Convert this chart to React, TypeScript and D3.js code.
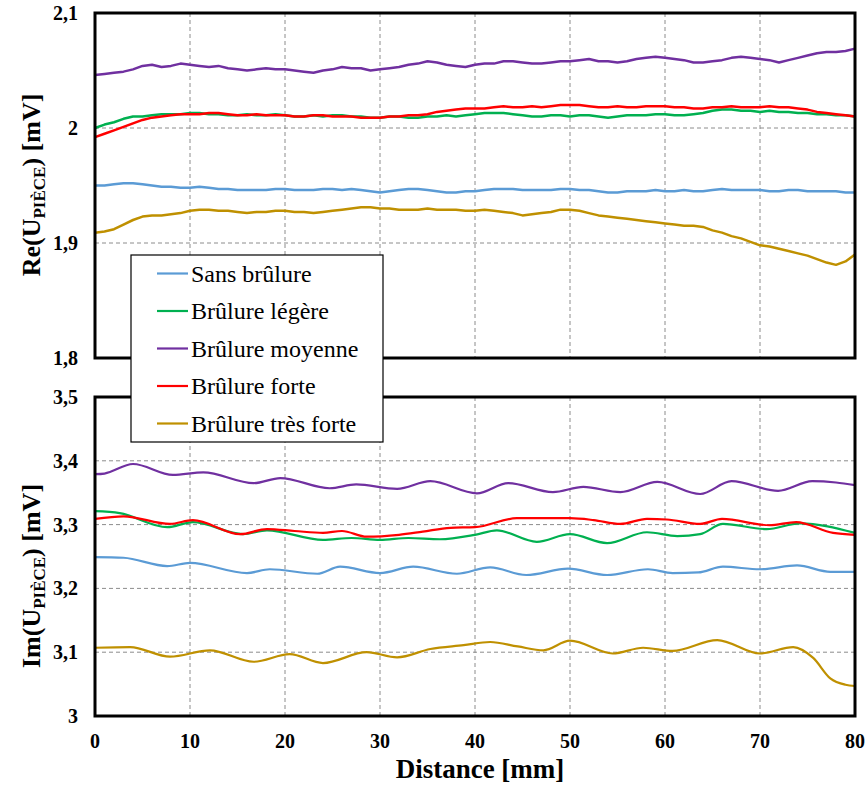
import React from "react";
import * as d3 from "d3";

// ---------- data ----------
const seriesNames = ["Sans brûlure", "Brûlure légère", "Brûlure moyenne", "Brûlure forte", "Brûlure très forte"];
const seriesColors = ["#5B9BD5", "#00B050", "#7030A0", "#FF0000", "#BF9000"];

const xTicks = [0, 10, 20, 30, 40, 50, 60, 70, 80];
const reTicks = [1.8, 1.9, 2.0, 2.1];
const reTickLabels = ["1,8", "1,9", "2", "2,1"];
const imTicks = [3.0, 3.1, 3.2, 3.3, 3.4, 3.5];
const imTickLabels = ["3", "3,1", "3,2", "3,3", "3,4", "3,5"];

// Re part: one reading per mm, 0..80
const reDist = d3.range(0, 81);
const reSans = [1.950, 1.950, 1.951, 1.952, 1.952, 1.951, 1.950, 1.949, 1.949, 1.948, 1.948, 1.949, 1.948, 1.947, 1.947, 1.946, 1.946, 1.946, 1.946, 1.947, 1.947, 1.946, 1.946, 1.946, 1.947, 1.947, 1.946, 1.947, 1.946, 1.945, 1.944, 1.945, 1.946, 1.947, 1.947, 1.946, 1.945, 1.944, 1.944, 1.945, 1.945, 1.946, 1.947, 1.947, 1.947, 1.946, 1.946, 1.946, 1.946, 1.947, 1.947, 1.946, 1.946, 1.945, 1.944, 1.944, 1.945, 1.945, 1.945, 1.946, 1.945, 1.945, 1.946, 1.945, 1.945, 1.946, 1.947, 1.946, 1.946, 1.946, 1.946, 1.945, 1.945, 1.946, 1.946, 1.945, 1.945, 1.945, 1.945, 1.944, 1.944];
const reLegere = [2.000, 2.003, 2.005, 2.008, 2.010, 2.010, 2.011, 2.012, 2.012, 2.012, 2.013, 2.013, 2.012, 2.012, 2.011, 2.011, 2.012, 2.011, 2.011, 2.012, 2.011, 2.010, 2.010, 2.011, 2.010, 2.011, 2.011, 2.010, 2.010, 2.009, 2.009, 2.010, 2.010, 2.009, 2.009, 2.010, 2.010, 2.011, 2.010, 2.011, 2.012, 2.013, 2.013, 2.013, 2.012, 2.011, 2.010, 2.010, 2.011, 2.011, 2.010, 2.011, 2.011, 2.010, 2.009, 2.010, 2.011, 2.011, 2.011, 2.012, 2.012, 2.011, 2.011, 2.012, 2.013, 2.015, 2.016, 2.016, 2.015, 2.015, 2.014, 2.015, 2.014, 2.014, 2.013, 2.013, 2.012, 2.012, 2.011, 2.011, 2.010];
const reMoyenne = [2.046, 2.047, 2.048, 2.049, 2.051, 2.054, 2.055, 2.053, 2.054, 2.056, 2.055, 2.054, 2.053, 2.054, 2.052, 2.051, 2.050, 2.051, 2.052, 2.051, 2.051, 2.050, 2.049, 2.048, 2.050, 2.051, 2.053, 2.052, 2.052, 2.050, 2.051, 2.052, 2.053, 2.055, 2.056, 2.058, 2.057, 2.055, 2.054, 2.053, 2.055, 2.056, 2.056, 2.058, 2.058, 2.057, 2.056, 2.056, 2.057, 2.058, 2.058, 2.059, 2.060, 2.058, 2.058, 2.057, 2.058, 2.060, 2.061, 2.062, 2.061, 2.060, 2.059, 2.057, 2.057, 2.058, 2.059, 2.061, 2.062, 2.061, 2.060, 2.059, 2.057, 2.059, 2.061, 2.063, 2.065, 2.066, 2.066, 2.067, 2.069];
const reForte = [1.992, 1.995, 1.998, 2.001, 2.004, 2.007, 2.009, 2.010, 2.011, 2.012, 2.012, 2.012, 2.013, 2.013, 2.012, 2.011, 2.011, 2.012, 2.011, 2.011, 2.011, 2.010, 2.010, 2.011, 2.011, 2.010, 2.010, 2.010, 2.009, 2.009, 2.009, 2.010, 2.010, 2.011, 2.011, 2.012, 2.014, 2.015, 2.016, 2.017, 2.017, 2.017, 2.018, 2.019, 2.018, 2.018, 2.019, 2.018, 2.019, 2.020, 2.020, 2.020, 2.019, 2.018, 2.018, 2.019, 2.018, 2.018, 2.019, 2.019, 2.019, 2.018, 2.018, 2.017, 2.017, 2.018, 2.018, 2.019, 2.018, 2.018, 2.018, 2.019, 2.018, 2.018, 2.017, 2.016, 2.014, 2.013, 2.012, 2.011, 2.010];
const reTresForte = [1.909, 1.910, 1.912, 1.916, 1.920, 1.923, 1.924, 1.924, 1.925, 1.926, 1.928, 1.929, 1.929, 1.928, 1.928, 1.927, 1.926, 1.927, 1.927, 1.928, 1.928, 1.927, 1.927, 1.926, 1.927, 1.928, 1.929, 1.930, 1.931, 1.931, 1.930, 1.930, 1.929, 1.929, 1.929, 1.930, 1.929, 1.929, 1.929, 1.928, 1.928, 1.929, 1.928, 1.927, 1.926, 1.924, 1.925, 1.926, 1.927, 1.929, 1.929, 1.928, 1.926, 1.924, 1.923, 1.922, 1.921, 1.920, 1.919, 1.918, 1.917, 1.916, 1.915, 1.915, 1.914, 1.911, 1.909, 1.906, 1.904, 1.901, 1.898, 1.897, 1.895, 1.893, 1.891, 1.889, 1.886, 1.883, 1.881, 1.884, 1.890];

// Im part: read at the wave crests and troughs
const imSansDist = [0, 3, 7.6, 10, 16, 18.4, 23.4, 25.8, 30, 33.5, 38.1, 41.6, 45.4, 49.8, 53.9, 58.2, 60.8, 63.5, 66.1, 70, 73.9, 77.4, 80];
const imSans = [3.249, 3.248, 3.235, 3.240, 3.224, 3.230, 3.223, 3.234, 3.224, 3.234, 3.223, 3.233, 3.221, 3.231, 3.221, 3.230, 3.224, 3.225, 3.234, 3.230, 3.236, 3.226, 3.226];
const imLegereDist = [0, 2.6, 7.6, 10.3, 15.6, 18.1, 24, 27, 30, 33, 36.3, 40, 42.3, 46.5, 50, 53.9, 58.1, 61.3, 63.7, 66.1, 70.7, 74.2, 80];
const imLegere = [3.321, 3.318, 3.296, 3.304, 3.285, 3.291, 3.276, 3.279, 3.276, 3.279, 3.277, 3.284, 3.291, 3.273, 3.285, 3.271, 3.288, 3.282, 3.285, 3.301, 3.293, 3.302, 3.287];
const imMoyenneDist = [0, 1, 4, 8.2, 11.4, 16.7, 19.5, 24.7, 27.5, 31.8, 35.3, 40.2, 43.5, 48.2, 51.4, 55.3, 59.2, 63.7, 67, 71.9, 75.5, 78, 80];
const imMoyenne = [3.379, 3.380, 3.395, 3.378, 3.382, 3.365, 3.373, 3.357, 3.363, 3.356, 3.368, 3.349, 3.365, 3.351, 3.359, 3.351, 3.367, 3.348, 3.368, 3.353, 3.368, 3.366, 3.362];
const imForteDist = [0, 3, 7.9, 10.3, 15.3, 18.1, 21, 24, 26, 28.6, 32, 34.5, 37.4, 40, 44.4, 50, 52.5, 55.3, 58.1, 60.2, 63.7, 66, 71, 73.8, 77.7, 80];
const imForte = [3.309, 3.313, 3.301, 3.307, 3.285, 3.293, 3.290, 3.287, 3.290, 3.281, 3.284, 3.289, 3.295, 3.296, 3.310, 3.310, 3.307, 3.301, 3.309, 3.308, 3.301, 3.309, 3.299, 3.304, 3.287, 3.284];
const imTresForteDist = [0, 3.7, 7.9, 12.1, 16.7, 20.5, 24, 28.6, 31.8, 35.3, 38.8, 41.6, 44.5, 47.2, 50, 54.5, 57.7, 60.8, 65.5, 70, 73.5, 75.6, 77.4, 79, 80];
const imTresForte = [3.107, 3.108, 3.093, 3.103, 3.085, 3.097, 3.083, 3.100, 3.092, 3.105, 3.111, 3.116, 3.109, 3.103, 3.118, 3.098, 3.107, 3.102, 3.119, 3.098, 3.108, 3.091, 3.059, 3.049, 3.047];

// ---------- chart ----------
const W = 866;
const H = 790;
const L = 95, R = 855;
const TOP = { y0: 13, y1: 358 };
const BOT = { y0: 397, y1: 716 };
const FONT = '"Liberation Serif", "Times New Roman", serif';

const x = d3.scaleLinear().domain([0, 80]).range([L, R]);
const yRe = d3.scaleLinear().domain([1.8, 2.1]).range([TOP.y1, TOP.y0]);
const yIm = d3.scaleLinear().domain([3.0, 3.5]).range([BOT.y1, BOT.y0]);

const reSeries = [reSans, reLegere, reMoyenne, reForte, reTresForte];
const imSeries = [
  [imSansDist, imSans],
  [imLegereDist, imLegere],
  [imMoyenneDist, imMoyenne],
  [imForteDist, imForte],
  [imTresForteDist, imTresForte],
];

const T = (props: any) => <text {...props} style={{ fontFamily: FONT }} />;

export default function App() {
  const reLine = d3
    .line<number>()
    .x((_, i) => x(reDist[i]))
    .y((d) => yRe(d))
    .curve(d3.curveLinear);

  const imPath = (xs: number[], ys: number[]) =>
    d3
      .line<number>()
      .x((_, i) => x(xs[i]))
      .y((d) => yIm(d))
      .curve(d3.curveMonotoneX)(ys) || "";

  const grid = (y0: number, y1: number, ys: number[], yScale: d3.ScaleLinear<number, number>) => (
    <g stroke="#8c8c8c" strokeWidth={1} strokeDasharray="4 3" fill="none">
      {xTicks.slice(1, -1).map((t) => (
        <line key={"v" + t} x1={x(t)} x2={x(t)} y1={y0} y2={y1} />
      ))}
      {ys.slice(1, -1).map((t) => (
        <line key={"h" + t} x1={L} x2={R} y1={yScale(t)} y2={yScale(t)} />
      ))}
    </g>
  );

  const legendY = [273.5, 311, 348.5, 386, 423.5];

  return (
    <svg width={W} height={H} style={{ position: "absolute", left: 0, top: 0, background: "#fff" }}>
      <rect x={0} y={0} width={W} height={H} fill="#fff" />

      {/* Top plot */}
      {grid(TOP.y0, TOP.y1, reTicks, yRe)}
      <g fill="none" strokeWidth={2.5} strokeLinejoin="round">
        {reSeries.map((s, i) => (
          <path key={i} d={reLine(s) || ""} stroke={seriesColors[i]} />
        ))}
      </g>
      <rect x={L} y={TOP.y0} width={R - L} height={TOP.y1 - TOP.y0} fill="none" stroke="#000" strokeWidth={3} />
      {reTicks.map((t, i) => (
        <T key={t} x={78} y={yRe(t)} dy="0.35em" textAnchor="end" fontWeight="bold" fontSize={20}>
          {reTickLabels[i]}
        </T>
      ))}
      <T transform={`translate(40, 185) rotate(-90)`} textAnchor="middle" fontWeight="bold" fontSize={26}>
        Re(U<tspan fontSize={17} dy={5}>PIÈCE</tspan>
        <tspan dy={-5}>) [mV]</tspan>
      </T>

      {/* Bottom plot */}
      {grid(BOT.y0, BOT.y1, imTicks, yIm)}
      <g fill="none" strokeWidth={2.2} strokeLinejoin="round">
        {imSeries.map(([xs, ys], i) => (
          <path key={i} d={imPath(xs, ys)} stroke={seriesColors[i]} />
        ))}
      </g>
      <rect x={L} y={BOT.y0} width={R - L} height={BOT.y1 - BOT.y0} fill="none" stroke="#000" strokeWidth={3} />
      {imTicks.map((t, i) => (
        <T key={t} x={78} y={yIm(t)} dy="0.35em" textAnchor="end" fontWeight="bold" fontSize={20}>
          {imTickLabels[i]}
        </T>
      ))}
      {xTicks.map((t) => (
        <T key={t} x={x(t)} y={748} textAnchor="middle" fontWeight="bold" fontSize={20}>
          {t}
        </T>
      ))}
      <T transform={`translate(40, 576) rotate(-90)`} textAnchor="middle" fontWeight="bold" fontSize={26}>
        Im(U<tspan fontSize={17} dy={5}>PIÈCE</tspan>
        <tspan dy={-5}>) [mV]</tspan>
      </T>
      <T x={480} y={778} textAnchor="middle" fontWeight="bold" fontSize={27}>
        Distance [mm]
      </T>

      {/* Legend */}
      <rect x={131} y={255} width={252} height={187} fill="#fff" stroke="#000" strokeWidth={1.2} />
      {seriesNames.map((n, i) => (
        <g key={n}>
          <line x1={157} x2={188} y1={legendY[i]} y2={legendY[i]} stroke={seriesColors[i]} strokeWidth={2.2} />
          <T x={191} y={legendY[i]} dy="0.35em" fontSize={24}>
            {n}
          </T>
        </g>
      ))}
    </svg>
  );
}
